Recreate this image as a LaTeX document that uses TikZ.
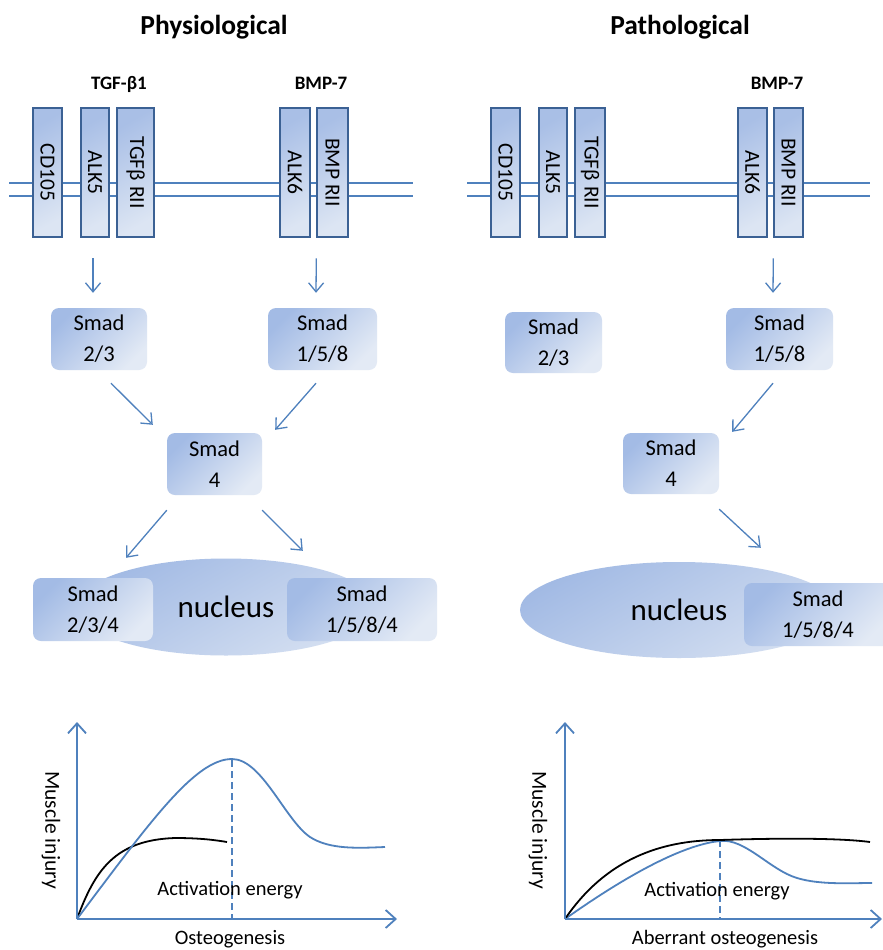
\documentclass[tikz,border=0pt]{standalone}
\usepackage{fontspec}
\usepackage{graphicx}
\setmainfont{Carlito}
\usetikzlibrary{arrows.meta,shapes.geometric}
\definecolor{lineblue}{HTML}{4F81BD}
\definecolor{boxdark}{HTML}{A3BBE5}
\definecolor{boxlight}{HTML}{E3EAF5}
\definecolor{recdark}{HTML}{A9BFE6}
\definecolor{reclight}{HTML}{DCE5F3}
\definecolor{recborder}{HTML}{3B6194}
\definecolor{nucdark}{HTML}{A2BAE4}
\definecolor{nuclight}{HTML}{D4DFF1}
\tikzset{
  recbox/.style={draw=recborder, line width=2.6pt, top color=recdark, bottom color=reclight,
    shading angle=30, inner sep=0pt, minimum height=129pt,
    font=\fontsize{21.5}{25}\selectfont},
  smadbox/.style={top color=boxdark, bottom color=boxlight, shading angle=45,
    rounded corners=8pt, inner sep=0pt, align=center,
    font=\fontsize{22.5}{31}\selectfont},
  nucshape/.style={ellipse, top color=nucdark, bottom color=nuclight, shading angle=30,
    inner sep=0pt, font=\fontsize{31}{36}\selectfont},
  membrane/.style={draw=lineblue, line width=1.5pt},
  arr/.style={draw=lineblue, line width=1.3pt,
    -{Straight Barb[length=9pt,width=15pt,line width=1.3pt]}},
  axisline/.style={draw=lineblue, line width=2pt,
    -{Straight Barb[length=10pt,width=18pt,line width=1.8pt]}},
  bluecurve/.style={draw=lineblue, line width=1.8pt},
  blackcurve/.style={draw=black, line width=1.8pt},
  vdash/.style={draw=lineblue, line width=1.6pt, dash pattern=on 7pt off 4pt},
  title/.style={font=\bfseries\fontsize{27.5}{32}\selectfont, anchor=base},
  ligand/.style={font=\bfseries\fontsize{19}{23}\selectfont, anchor=base},
  glabel/.style={font=\fontsize{20.5}{24}\selectfont},
  ylabel/.style={font=\fontsize{21.5}{25}\selectfont, rotate=-90},
}
\begin{document}
\begin{tikzpicture}[x=1pt,y=-1pt]
\clip (0,0) rectangle (883,950);
\fill[white] (0,0) rectangle (883,950);

% titles
\node[title] (tphys) at (214,35) {Physiological};
\node[title] (tpath) at (680,35) {Pathological};
\node[ligand] (tgf) at (119,89) {TGF-β1};
\node[ligand] (bmpL) at (321,89) {BMP-7};
\node[ligand] (bmpR) at (777,89) {BMP-7};

% membranes
\draw[membrane] (9,183) -- (413,183);
\draw[membrane] (9,196) -- (413,196);
\draw[membrane] (467,183) -- (870,183);
\draw[membrane] (467,196) -- (870,196);

% receptors left
\node[recbox, minimum width=29pt] (cdL) at (47.5,172.5) {\rotatebox{-90}{CD105}};
\node[recbox, minimum width=28pt] (alk5L) at (95,172.5) {\rotatebox{-90}{ALK5}};
\node[recbox, minimum width=37pt] (tgfrL) at (135.5,172.5) {\rotatebox{-90}{TGFβ RII}};
\node[recbox, minimum width=30pt] (alk6L) at (295,172.5) {\rotatebox{-90}{ALK6}};
\node[recbox, minimum width=31pt] (bmprL) at (332.5,172.5) {\rotatebox{-90}{BMP RII}};
% receptors right
\node[recbox, minimum width=29pt] (cdR) at (505.5,172.5) {\rotatebox{-90}{CD105}};
\node[recbox, minimum width=28pt] (alk5R) at (553,172.5) {\rotatebox{-90}{ALK5}};
\node[recbox, minimum width=30pt] (tgfrR) at (590,172.5) {\rotatebox{-90}{TGFβ RII}};
\node[recbox, minimum width=29pt] (alk6R) at (752.5,172.5) {\rotatebox{-90}{ALK6}};
\node[recbox, minimum width=29pt] (bmprR) at (788.5,172.5) {\rotatebox{-90}{BMP RII}};

% Smads left
\node[smadbox, minimum width=96pt, minimum height=62pt] (s23L) at (99,339) {Smad\\2/3};
\node[smadbox, minimum width=109pt, minimum height=62pt] (s158L) at (322.5,339) {Smad\\1/5/8};
\node[smadbox, minimum width=95pt, minimum height=62pt] (s4L) at (214.5,464) {Smad\\4};
\node[nucshape, minimum width=300pt, minimum height=97pt] (nucL) at (226,607) {nucleus};
\node[smadbox, minimum width=120pt, minimum height=63pt] (s234L) at (93,609.5) {Smad\\2/3/4};
\node[smadbox, minimum width=150pt, minimum height=63pt] (s1584L) at (362,609.5) {Smad\\1/5/8/4};

% Smads right
\node[smadbox, minimum width=97pt, minimum height=61pt] (s23R) at (553.5,342.5) {Smad\\2/3};
\node[smadbox, minimum width=107pt, minimum height=62pt] (s158R) at (779.5,339) {Smad\\1/5/8};
\node[smadbox, minimum width=96pt, minimum height=61pt] (s4R) at (671,463.5) {Smad\\4};
\node[nucshape, minimum width=318pt, minimum height=96pt] (nucR) at (679,610) {nucleus};
\node[smadbox, minimum width=148pt, minimum height=63pt] (s1584R) at (818,614.5) {Smad\\1/5/8/4};

% arrows left
\draw[arr] ([shift={(-2,20)}]alk5L.south) -- ([shift={(-6,-15)}]s23L.north);
\draw[arr] ([shift={(5,20)}]alk6L.south east) -- ([shift={(-6.5,-15)}]s158L.north);
\draw[arr] ([shift={(12,13)}]s23L.south) -- ([shift={(-14,-8)}]s4L.north west);
\draw[arr] ([shift={(-6.5,13)}]s158L.south) -- ([shift={(13,-3)}]s4L.north east);
\draw[arr] ([shift={(0,15)}]s4L.south west) -- ([shift={(33,-20)}]s234L.north);
\draw[arr] ([shift={(0,15)}]s4L.south east) -- ([shift={(16,-27)}]s1584L.north west);
% arrows right
\draw[arr] ([shift={(5,20)}]alk6R.south east) -- ([shift={(-6.5,-15)}]s158R.north);
\draw[arr] ([shift={(-6.5,13)}]s158R.south) -- ([shift={(13,-1)}]s4R.north east);
\draw[arr] ([shift={(0,15)}]s4R.south east) -- ([shift={(17,-35)}]s1584R.north west);

% graph left
\draw[vdash] (232,760) -- (232,919);
\draw[blackcurve] (77,919) .. controls (95,870) and (115,840) .. (175,838)
  .. controls (200,838) and (215,840) .. (227,842);
\draw[bluecurve] (77,919) .. controls (150,822) and (195,759) .. (232,759)
  .. controls (262,759) and (285,820) .. (310,837)
  .. controls (330,850) and (360,848) .. (385,847);
\draw[axisline] (77,919) -- (77,722);
\draw[axisline] (77,919) -- (397,919);
\node[ylabel] (yL) at (51,830) {Muscle injury};
\node[glabel, anchor=base] (aeL) at (230,895) {Activation energy};
\node[glabel, anchor=base] (xL) at (230,944) {Osteogenesis};

% graph right
\draw[vdash] (720,840) -- (720,919);
\draw[bluecurve] (565,919) .. controls (620,880) and (680,845) .. (720,841)
  .. controls (745,838) and (770,870) .. (797,878)
  .. controls (820,885) and (850,883) .. (872,883);
\draw[blackcurve] (565,919) .. controls (605,860) and (660,840) .. (720,840)
  .. controls (780,838) and (840,838) .. (870,842);
\draw[axisline] (565,919) -- (565,722);
\draw[axisline] (565,919) -- (882,919);
\node[ylabel] (yR) at (538,830) {Muscle injury};
\node[glabel, anchor=base] (aeR) at (717,896) {Activation energy};
\node[glabel, anchor=base] (xR) at (725,944) {Aberrant osteogenesis};
\end{tikzpicture}
\end{document}
